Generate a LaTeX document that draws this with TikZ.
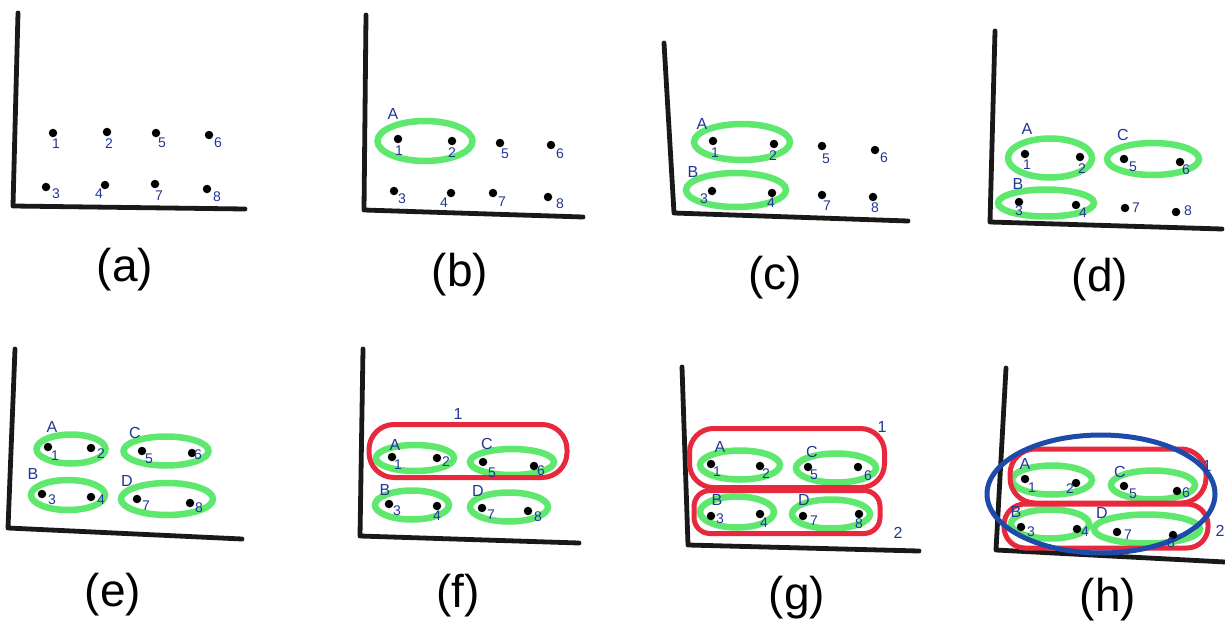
\documentclass[tikz,border=0pt]{standalone}
\usepackage{fontspec}
\setmainfont{Liberation Sans}
\usetikzlibrary{shapes.geometric}
\definecolor{grn}{RGB}{95,232,110}
\definecolor{redc}{RGB}{232,40,60}
\definecolor{bluc}{RGB}{30,75,170}
\definecolor{hand}{RGB}{35,55,150}
\definecolor{axc}{RGB}{25,25,25}
\tikzset{
  dotn/.style={circle, fill=black, inner sep=0pt, minimum size=8.5pt},
  numl/.style={font=\fontsize{14}{14}\selectfont, text=hand, inner sep=0pt},
  letl/.style={font=\fontsize{16}{16}\selectfont, text=hand, inner sep=0pt},
  grp/.style={ellipse, draw=grn, line width=6.5pt, inner sep=0pt},
  clus/.style={rectangle, draw=redc, line width=5pt, inner sep=0pt},
  bigc/.style={ellipse, draw=bluc, line width=5pt, inner sep=0pt},
  axisl/.style={line width=4.8pt, draw=axc, line cap=round, line join=round},
  captxt/.style={font=\fontsize{46}{46}\selectfont, inner sep=0pt}
}
\newcommand\dotsfor[2]{\foreach \n/\x/\y/\dx/\dy in {#2}{%
  \node[dotn] (#1d\n) at (\x,\y) {};
  \node[numl] (#1n\n) at (\x+\dx,\y+\dy) {\n};}}
\newcommand\axes[4]{%
  \coordinate (#1T) at #2; \coordinate (#1O) at #3; \coordinate (#1R) at #4;
  \draw[axisl] (#1T) -- (#1O) -- (#1R);}
\begin{document}
\begin{tikzpicture}[x=1pt,y=-1pt]
\useasboundingbox (0,0) rectangle (1225,623);
\fill[white] (0,0) rectangle (1225,623);

% ---------- (a)
\axes{a}{(18,13)}{(13,206)}{(245,209)}
\dotsfor{a}{1/53/133/3/11, 2/107/132/2/12, 5/156/133/6/10, 6/209/135/9/8,
            3/46/187/10/7, 4/105/185/-6/9, 7/155/184/4/12, 8/207/189/10/8}
\node[captxt] (capa) at (125,270) {(a)};

% ---------- (b)
\axes{b}{(366,15)}{(364,210)}{(583,217)}
\node[grp, minimum width=95pt, minimum height=40pt] (bA) at (425,141) {};
\dotsfor{b}{1/398/139/1/12, 2/452/141/0/12, 5/500/143/5/11, 6/551/145/9/9,
            3/394/191/8/8, 4/451/193/-7/10, 7/493/193/9/9, 8/548/197/12/7}
\node[letl] (bLA) at (393,114) {A};
\node[captxt] (capb) at (460,275) {(b)};

% ---------- (c)
\axes{c}{(664,43)}{(674,213)}{(908,221)}
\node[grp, minimum width=96pt, minimum height=36pt] (cA) at (742,142) {};
\node[grp, minimum width=100pt, minimum height=34pt] (cB) at (736,190) {};
\dotsfor{c}{1/713/141/2/12, 2/774/144/-1/12, 5/822/146/4/13, 6/875/150/9/8,
            3/712/191/-8/8, 4/772/193/-1/10, 7/822/195/5/11, 8/873/197/2/11}
\node[letl] (cLA) at (702,124) {A};
\node[letl] (cLB) at (693,172) {B};
\node[captxt] (capc) at (775,278) {(c)};

% ---------- (d)
\axes{d}{(995,31)}{(990,222)}{(1222,229)}
\node[grp, minimum width=84pt, minimum height=39pt] (dA) at (1050,158) {};
\node[grp, minimum width=92pt, minimum height=32pt] (dC) at (1153,159) {};
\node[grp, minimum width=96pt, minimum height=27pt] (dB) at (1046,203) {};
\dotsfor{d}{1/1025/154/2/11, 2/1080/157/2/12, 5/1124/159/9/8, 6/1180/162/6/8,
            3/1019/202/0/9, 4/1076/205/7/8, 7/1125/208/11/0, 8/1176/212/12/-1}
\node[letl] (dLA) at (1027,129) {A};
\node[letl] (dLC) at (1123,135) {C};
\node[letl] (dLB) at (1018,184) {B};
\node[captxt] (capd) at (1100,280) {(d)};

% ---------- (e)
\axes{e}{(15,349)}{(8,528)}{(242,539)}
\node[grp, minimum width=69pt, minimum height=29pt] (eA) at (71,449) {};
\node[grp, minimum width=85pt, minimum height=29pt] (eC) at (166,451) {};
\node[grp, minimum width=74pt, minimum height=30pt] (eB) at (68,495) {};
\node[grp, minimum width=92pt, minimum height=32pt] (eD) at (167,499) {};
\dotsfor{e}{1/48/447/7/9, 2/91/448/10/6, 5/142/451/7/8, 6/192/453/6/2,
            3/42/494/10/6, 4/91/497/10/3, 7/137/499/9/7, 8/190/503/9/5}
\node[letl] (eLA) at (52,427) {A};
\node[letl] (eLC) at (135,433) {C};
\node[letl] (eLB) at (33,474) {B};
\node[letl] (eLD) at (127,481) {D};
\node[captxt] (cape) at (113,595) {(e)};

% ---------- (f)
\axes{f}{(363,349)}{(360,536)}{(579,543)}
\node[grp, minimum width=78pt, minimum height=26pt] (fA) at (415,458) {};
\node[grp, minimum width=84pt, minimum height=26pt] (fC) at (512,462) {};
\node[grp, minimum width=74pt, minimum height=29pt] (fB) at (412,505) {};
\node[grp, minimum width=78pt, minimum height=29pt] (fD) at (509,507) {};
\node[clus, rounded corners=25pt, minimum width=198pt, minimum height=53pt] (f1) at (468,451) {};
\dotsfor{f}{1/392/457/6/8, 2/437/458/9/4, 5/483/462/9/11, 6/534/466/7/5,
            3/389/504/8/7, 4/437/506/0/10, 7/482/508/9/7, 8/528/511/10/6}
\node[letl] (fLA) at (395,445) {A};
\node[letl] (fLC) at (487,444) {C};
\node[letl] (fLB) at (385,490) {B};
\node[letl] (fLD) at (478,491) {D};
\node[letl] (fL1) at (458,414) {1};
\node[captxt] (capf) at (458,596) {(f)};

% ---------- (g)
\axes{g}{(682,367)}{(688,545)}{(919,551)}
\node[grp, minimum width=80pt, minimum height=29pt] (gA) at (740,465) {};
\node[grp, minimum width=80pt, minimum height=29pt] (gC) at (836,468) {};
\node[grp, minimum width=74pt, minimum height=31pt] (gB) at (737,512) {};
\node[grp, minimum width=78pt, minimum height=29pt] (gD) at (831,514) {};
\node[clus, rounded corners=24pt, minimum width=195pt, minimum height=59pt] (g1) at (787,458) {};
\node[clus, rounded corners=16pt, minimum width=186pt, minimum height=43pt] (g2) at (787,512) {};
\dotsfor{g}{1/711/464/6/8, 2/760/466/6/8, 5/808/467/6/8, 6/858/467/10/9,
            3/711/516/9/3, 4/760/514/4/9, 7/803/516/11/5, 8/859/514/0/10}
\node[letl] (gLA) at (720,447) {A};
\node[letl] (gLC) at (812,452) {C};
\node[letl] (gLB) at (717,500) {B};
\node[letl] (gLD) at (804,500) {D};
\node[letl] (gL1) at (882,427) {1};
\node[letl] (gL2) at (898,533) {2};
\node[captxt] (capg) at (797,598) {(g)};

% ---------- (h)
\axes{h}{(1006,368)}{(996,550)}{(1225,562)}
\node[grp, minimum width=80pt, minimum height=29pt] (hA) at (1052,480) {};
\node[grp, minimum width=84pt, minimum height=29pt] (hC) at (1153,485) {};
\node[grp, minimum width=78pt, minimum height=29pt] (hB) at (1050,524) {};
\node[grp, minimum width=106pt, minimum height=29pt] (hD) at (1147,529) {};
\node[clus, rounded corners=25pt, minimum width=196pt, minimum height=54pt] (h1) at (1108,476) {};
\node[clus, rounded corners=21pt, minimum width=204pt, minimum height=44pt] (h2) at (1106,526) {};
\node[bigc, minimum width=228pt, minimum height=118pt] (h0) at (1101,494) {};
\dotsfor{h}{1/1025/479/7/9, 2/1076/483/-6/6, 5/1124/486/9/8, 6/1177/491/9/2,
            3/1021/527/10/5, 4/1077/529/8/3, 7/1117/532/11/3, 8/1173/535/-2/8}
\node[letl] (hLA) at (1025,464) {A};
\node[letl] (hLC) at (1120,472) {C};
\node[letl] (hLB) at (1016,512) {B};
\node[letl] (hLD) at (1102,513) {D};
\node[letl] (hL1) at (1207,466) {1};
\node[letl] (hL2) at (1220,531) {2};
\node[captxt] (caph) at (1108,600) {(h)};
\end{tikzpicture}
\end{document}
